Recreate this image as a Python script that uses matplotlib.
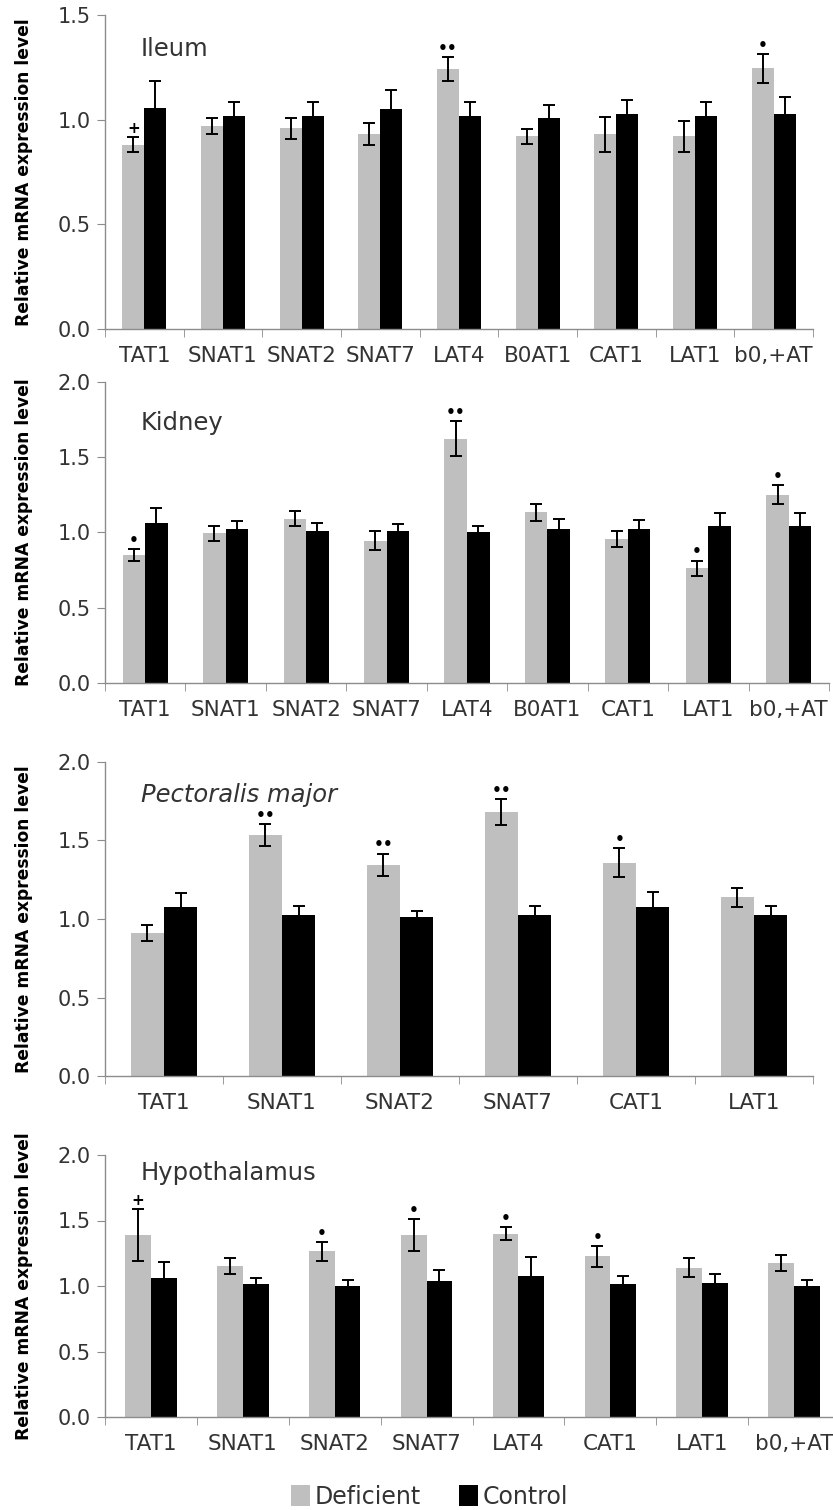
import numpy as np
import matplotlib.pyplot as plt
from matplotlib.patches import Patch

plt.rcParams['font.family'] = ['DejaVu Sans']

GRAY = '#bfbfbf'
AXIS = '#8c8c8c'
TXT = '#333333'

# Ileum
ileum_genes = ['TAT1', 'SNAT1', 'SNAT2', 'SNAT7', 'LAT4', 'B0AT1', 'CAT1', 'LAT1', 'b0,+AT']
ileum_def = [0.88, 0.97, 0.96, 0.93, 1.24, 0.92, 0.93, 0.92, 1.245]
ileum_def_err = [0.036, 0.037, 0.05, 0.052, 0.057, 0.037, 0.084, 0.075, 0.068]
ileum_ctl = [1.057, 1.017, 1.017, 1.049, 1.017, 1.01, 1.025, 1.017, 1.025]
ileum_ctl_err = [0.13, 0.068, 0.068, 0.093, 0.068, 0.06, 0.07, 0.068, 0.084]
ileum_sig = ['+', '', '', '', '••', '', '', '', '•']

# Kidney
kidney_genes = ['TAT1', 'SNAT1', 'SNAT2', 'SNAT7', 'LAT4', 'B0AT1', 'CAT1', 'LAT1', 'b0,+AT']
kidney_def = [0.851, 0.994, 1.09, 0.946, 1.622, 1.134, 0.957, 0.762, 1.251]
kidney_def_err = [0.04, 0.049, 0.05, 0.064, 0.117, 0.057, 0.053, 0.051, 0.062]
kidney_ctl = [1.065, 1.023, 1.012, 1.012, 1.001, 1.023, 1.023, 1.045, 1.045]
kidney_ctl_err = [0.1, 0.051, 0.051, 0.042, 0.042, 0.064, 0.062, 0.082, 0.082]
kidney_sig = ['•', '', '', '', '••', '', '', '•', '•']

# Pectoralis major
pect_genes = ['TAT1', 'SNAT1', 'SNAT2', 'SNAT7', 'CAT1', 'LAT1']
pect_def = [0.91, 1.535, 1.347, 1.681, 1.358, 1.137]
pect_def_err = [0.049, 0.07, 0.07, 0.081, 0.092, 0.062]
pect_ctl = [1.075, 1.024, 1.014, 1.024, 1.075, 1.024]
pect_ctl_err = [0.09, 0.06, 0.038, 0.06, 0.1, 0.06]
pect_sig = ['', '••', '••', '••', '•', '']

# Hypothalamus
hypo_genes = ['TAT1', 'SNAT1', 'SNAT2', 'SNAT7', 'LAT4', 'CAT1', 'LAT1', 'b0,+AT']
hypo_def = [1.389, 1.153, 1.265, 1.389, 1.399, 1.226, 1.14, 1.176]
hypo_def_err = [0.196, 0.058, 0.071, 0.12, 0.048, 0.081, 0.071, 0.059]
hypo_ctl = [1.064, 1.015, 1.003, 1.038, 1.076, 1.015, 1.025, 1.003]
hypo_ctl_err = [0.12, 0.043, 0.046, 0.081, 0.148, 0.059, 0.069, 0.046]
hypo_sig = ['+', '', '•', '•', '•', '•', '', '']

W, H = 833, 1510
fig = plt.figure(figsize=(W / 100, H / 100), dpi=100)


def panel(rect_px, genes, dv, de, cv, ce, sig, title, ymax, title_y, italic=False):
    l, t, r, b = rect_px
    ax = fig.add_axes([l / W, 1 - b / H, (r - l) / W, (b - t) / H])
    x = np.arange(len(genes))
    w = 0.28
    ax.bar(x - w / 2, dv, w, color=GRAY, zorder=2)
    ax.bar(x + w / 2, cv, w, color='black', zorder=2)
    ek = dict(fmt='none', ecolor='black', elinewidth=1.4, capsize=4.5, capthick=1.4, zorder=3)
    ax.errorbar(x - w / 2, dv, yerr=de, **ek)
    ax.errorbar(x + w / 2, cv, yerr=ce, **ek)
    for xi, v, e, s in zip(x, dv, de, sig):
        if s:
            ax.text(xi - w / 2, v + e + ymax * 0.004, s, ha='center', va='bottom',
                    fontsize=11, fontweight='bold', color='black')
    ax.set_xlim(-0.5, len(genes) - 0.5)
    ax.set_ylim(0, ymax)
    yt = np.arange(0, ymax + 0.01, 0.5)
    ax.set_yticks(yt)
    ax.set_yticklabels(['%.1f' % v for v in yt])
    ax.set_xticks(x)
    ax.set_xticklabels(genes)
    ax.set_xticks(np.arange(-0.5, len(genes), 1), minor=True)
    ax.tick_params(axis='x', which='major', length=0, pad=12, labelsize=15.5, labelcolor=TXT)
    ax.tick_params(axis='x', which='minor', length=6, color=AXIS, direction='out')
    ax.tick_params(axis='y', length=6, color=AXIS, labelsize=15, labelcolor=TXT, pad=4)
    for sp in ['top', 'right']:
        ax.spines[sp].set_visible(False)
    for sp in ['left', 'bottom']:
        ax.spines[sp].set_color(AXIS)
        ax.spines[sp].set_linewidth(1.0)
    fig.text(24 / W, 1 - (t + b) / 2 / H, 'Relative mRNA expression level', rotation=90,
             ha='center', va='center', fontsize=12.3, fontweight='bold', color='black')
    fig.text(141 / W, 1 - title_y / H, title, fontsize=17.5, color=TXT,
             style='italic' if italic else 'normal', va='center', ha='left')
    return ax


panel((105, 15, 813, 329), ileum_genes, ileum_def, ileum_def_err, ileum_ctl, ileum_ctl_err,
      ileum_sig, 'Ileum', 1.5, 49)
panel((105, 382, 829, 683), kidney_genes, kidney_def, kidney_def_err, kidney_ctl, kidney_ctl_err,
      kidney_sig, 'Kidney', 2.0, 423)
panel((105, 762, 813, 1076), pect_genes, pect_def, pect_def_err, pect_ctl, pect_ctl_err,
      pect_sig, 'Pectoralis major', 2.0, 795, italic=True)
panel((105, 1155, 840, 1417), hypo_genes, hypo_def, hypo_def_err, hypo_ctl, hypo_ctl_err,
      hypo_sig, 'Hypothalamus', 2.0, 1173)

handles = [Patch(facecolor=GRAY, label='Deficient'), Patch(facecolor='black', label='Control')]
fig.legend(handles=handles, loc='center', bbox_to_anchor=(0.516, 1 - 1497 / H), ncol=2,
           frameon=False, fontsize=17, handlelength=0.8, handleheight=1.0,
           handletextpad=0.2, columnspacing=1.6, labelcolor=TXT)

fig.savefig('out.png', dpi=100)
